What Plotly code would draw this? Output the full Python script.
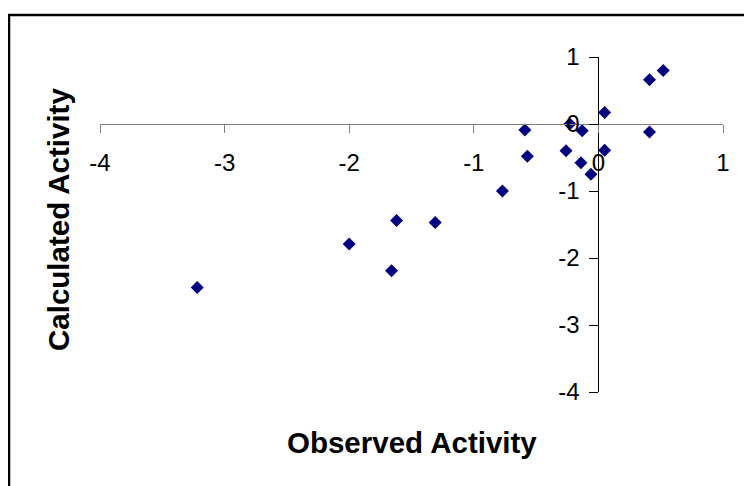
import plotly.graph_objects as go

observed = [0.52, 0.41, 0.05, 0.41, -0.59, -0.23, -0.13, -0.57, -0.26, 0.05,
            -0.14, -0.06, -0.77, -1.62, -1.31, -3.22, -2.00, -1.66]
calculated = [0.80, 0.66, 0.17, -0.12, -0.09, 0.00, -0.10, -0.48, -0.40, -0.39,
              -0.58, -0.75, -1.00, -1.44, -1.47, -2.44, -1.79, -2.19]
x_ticks = [-4, -3, -2, -1, 0, 1]
y_ticks = [-4, -3, -2, -1, 0, 1]
x_title = "Observed Activity"
y_title = "Calculated Activity"

OFF = 8  # page body margin
W, H = 752 - OFF, 486 - OFF
L, T = 100 - OFF, 57 - OFF
R = W - (723 - OFF)
B = H - (392 - OFF)
pw, ph = W - L - R, H - T - B


def px_x(sx):
    return (sx - OFF - L) / pw


def px_y(sy):
    return (H - B - (sy - OFF)) / ph


fig = go.Figure()
fig.add_trace(go.Scatter(
    x=observed, y=calculated, mode="markers",
    marker=dict(symbol="diamond", size=10, color="#000080", line=dict(width=0)),
    showlegend=False, cliponaxis=False,
))

font = "Liberation Sans, Arial, sans-serif"
xr, yr = [-4, 1], [-4, 1]
fig.update_layout(
    width=W, height=H,
    margin=dict(l=L, r=R, t=T, b=B, pad=0),
    paper_bgcolor="white", plot_bgcolor="white",
    font=dict(family=font, color="black"),
    xaxis=dict(
        range=xr, tickvals=x_ticks, ticktext=[str(v) for v in x_ticks],
        showgrid=False, zeroline=False, showline=True, linecolor="#808080", linewidth=1,
        ticks="outside", ticklen=8, tickcolor="#808080", tickwidth=1,
        anchor="free", position=(0 - yr[0]) / (yr[1] - yr[0]),
        tickfont=dict(size=24, family=font, color="black"),
        ticklabelstandoff=9,
    ),
    yaxis=dict(
        range=yr, tickvals=y_ticks, ticktext=[str(v) for v in y_ticks],
        showgrid=False, zeroline=False, showline=True, linecolor="black", linewidth=1,
        ticks="outside", ticklen=9, tickcolor="black", tickwidth=1,
        anchor="free", position=(0 - xr[0]) / (xr[1] - xr[0]),
        tickfont=dict(size=24, family=font, color="black"),
        ticklabelstandoff=5,
    ),
    annotations=[
        dict(text="<b>" + x_title + "</b>", xref="paper", yref="paper",
             x=px_x(412), y=px_y(443), showarrow=False,
             xanchor="center", yanchor="middle", font=dict(size=29.5, family=font)),
        dict(text="<b>" + y_title + "</b>", xref="paper", yref="paper",
             x=px_x(58), y=px_y(220), showarrow=False, textangle=-90,
             xanchor="center", yanchor="middle", font=dict(size=29.5, family=font)),
    ],
    shapes=[
        dict(type="rect", xref="paper", yref="paper",
             x0=px_x(9), x1=px_x(800),
             y0=px_y(540), y1=px_y(15),
             line=dict(color="black", width=2.5), fillcolor="rgba(0,0,0,0)", layer="below"),
    ],
)

fig.write_html("out.html")
